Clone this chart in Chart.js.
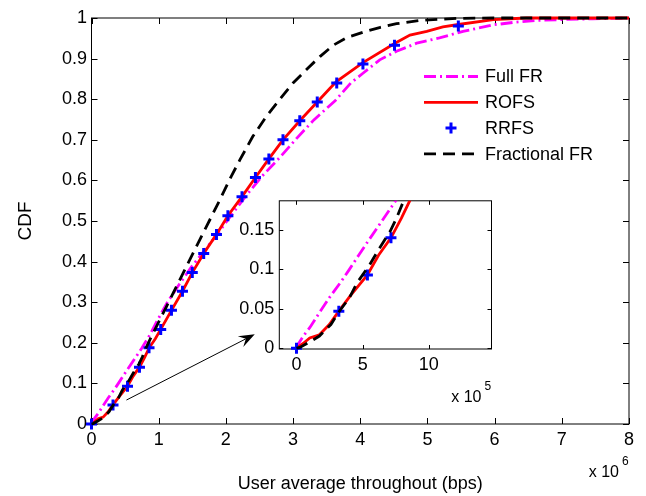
<!DOCTYPE html>
<html>
<head>
<meta charset="utf-8">
<script src="https://cdn.jsdelivr.net/npm/chart.js@4/dist/chart.umd.min.js"></script>
<style>
  body { margin: 0; background: #fff; }
  #wrap { position: relative; width: 646px; height: 496px; }
  #main { position: absolute; left: 0; top: 0; }
  #inset { position: absolute; left: 230px; top: 185px; }
</style>
</head>
<body>
<div id="wrap">
  <canvas id="main" width="646" height="496"></canvas>
  <canvas id="inset" width="270" height="225"></canvas>
</div>
<script>
// throughput in units of 1e6 bps, CDF values
const fullFrX = [0, 0.012, 0.05, 0.10, 0.173, 0.248, 0.335, 0.40, 0.47, 0.55, 0.64, 0.75, 0.87, 0.99, 1.13, 1.31, 1.48, 1.67, 1.87, 2.07, 2.29, 2.52, 2.80, 3.05, 3.31, 3.63, 3.86, 4.04, 4.29, 4.54, 4.84, 5.18, 5.53, 5.98, 6.32, 6.62, 6.97, 7.46, 8.0];
const fullFrY = [0, 0.005, 0.015, 0.026, 0.045, 0.064, 0.084, 0.100, 0.118, 0.138, 0.160, 0.187, 0.220, 0.258, 0.30, 0.345, 0.385, 0.425, 0.467, 0.512, 0.56, 0.607, 0.656, 0.703, 0.749, 0.797, 0.84, 0.864, 0.897, 0.918, 0.938, 0.951, 0.967, 0.983, 0.99, 0.994, 0.996, 0.998, 1.0];

const rofsX = [0, 0.05, 0.10, 0.173, 0.248, 0.32, 0.409, 0.536, 0.62, 0.714, 0.793, 0.856, 0.95, 1.03, 1.19, 1.354, 1.50, 1.67, 1.86, 2.03, 2.24, 2.44, 2.64, 2.85, 3.10, 3.36, 3.55, 3.65, 4.04, 4.51, 4.74, 4.99, 5.23, 5.46, 5.98, 6.47, 8.0];
const rofsY = [0, 0.006, 0.013, 0.017, 0.030, 0.047, 0.067, 0.093, 0.118, 0.140, 0.165, 0.187, 0.21, 0.233, 0.28, 0.327, 0.373, 0.42, 0.467, 0.513, 0.56, 0.607, 0.653, 0.70, 0.747, 0.793, 0.827, 0.844, 0.89, 0.937, 0.958, 0.967, 0.978, 0.984, 0.996, 1.0, 1.0];

const rrfsX = [0, 0.32, 0.536, 0.714, 0.856, 1.03, 1.19, 1.354, 1.50, 1.67, 1.86, 2.03, 2.24, 2.44, 2.64, 2.85, 3.10, 3.36, 3.65, 4.04, 4.51, 5.46];
const rrfsY = [0, 0.047, 0.093, 0.140, 0.188, 0.233, 0.280, 0.327, 0.373, 0.420, 0.467, 0.513, 0.560, 0.607, 0.653, 0.700, 0.747, 0.793, 0.840, 0.887, 0.933, 0.980];

const fracFrX = [0, 0.025, 0.10, 0.173, 0.26, 0.32, 0.40, 0.458, 0.55, 0.62, 0.707, 0.756, 0.81, 0.868, 0.99, 1.116, 1.314, 1.51, 1.71, 1.91, 2.08, 2.21, 2.40, 2.60, 2.80, 3.0, 3.2, 3.40, 3.60, 3.80, 4.04, 4.30, 4.54, 4.89, 5.43, 6.0, 8.0];
const fracFrY = [0, 0.001, 0.008, 0.0154, 0.030, 0.046, 0.064, 0.083, 0.105, 0.125, 0.148, 0.165, 0.187, 0.207, 0.248, 0.289, 0.355, 0.42, 0.486, 0.552, 0.610, 0.651, 0.708, 0.757, 0.799, 0.84, 0.873, 0.905, 0.933, 0.952, 0.965, 0.977, 0.986, 0.994, 0.999, 1.0, 1.0];

// ticks
const mainXTicks = [0, 1, 2, 3, 4, 5, 6, 7, 8];
const mainXLabels = ['0', '1', '2', '3', '4', '5', '6', '7', '8'];
const mainYTicks = [0, 0.1, 0.2, 0.3, 0.4, 0.5, 0.6, 0.7, 0.8, 0.9, 1];
const mainYLabels = ['0', '0.1', '0.2', '0.3', '0.4', '0.5', '0.6', '0.7', '0.8', '0.9', '1'];
const insetXTicks = [0, 0.5, 1.0];
const insetXLabels = ['0', '5', '10'];
const insetYTicks = [0, 0.05, 0.1, 0.15];
const insetYLabels = ['0', '0.05', '0.1', '0.15'];

// axis ranges
const mainXRange = [0, 8], mainYRange = [0, 1];
const insetXRange = [-0.13, 1.474], insetYRange = [-0.001, 0.187];

// arrow pointing at the zoomed region (data units of main axes)
const arrowFrom = [0.52, 0.059];
const arrowTo = [2.43, 0.221];

Chart.defaults.font.family = '"Liberation Sans", Arial, Helvetica, sans-serif';
Chart.defaults.font.size = 18;
Chart.defaults.color = '#000';

function toPoints(xs, ys) {
    return xs.map((x, i) => ({ x: x, y: ys[i] }));
}

function makeDatasets(clip, keep) {
    const markers = toPoints(rrfsX, rrfsY).filter(keep);
    return [
        { label: 'Full FR', data: toPoints(fullFrX, fullFrY), borderColor: '#ff00ff', borderWidth: 2.8,
          borderDash: [12, 4, 2, 4], pointRadius: 0, tension: 0, clip: clip, order: 3 },
        { label: 'ROFS', data: toPoints(rofsX, rofsY), borderColor: '#ff0000', borderWidth: 2.8,
          pointRadius: 0, tension: 0, clip: clip, order: 2 },
        { label: 'RRFS', data: markers, showLine: false, pointStyle: 'cross', pointRadius: 5.5,
          borderColor: '#0000ff', backgroundColor: '#0000ff', pointBorderWidth: 3, clip: clip, order: 1 },
        { label: 'Fractional FR', data: toPoints(fracFrX, fracFrY), borderColor: '#000000', borderWidth: 2.8,
          borderDash: [12, 7], pointRadius: 0, tension: 0, clip: clip, order: 0 }
    ];
}

// matlab style box with inward ticks on every side
function boxPlugin(tickLen, fillWhite) {
    return {
        id: 'box',
        beforeDatasetsDraw(chart) {
            const { ctx, chartArea: a, scales: { x, y } } = chart;
            ctx.save();
            if (fillWhite) {
                ctx.fillStyle = '#fff';
                ctx.fillRect(a.left, a.top, a.right - a.left, a.bottom - a.top);
            }
            ctx.strokeStyle = '#000';
            ctx.lineWidth = 1;
            ctx.strokeRect(a.left, a.top, a.right - a.left, a.bottom - a.top);
            ctx.beginPath();
            x.ticks.forEach(t => {
                const p = Math.round(x.getPixelForValue(t.value)) + 0.5;
                ctx.moveTo(p, a.bottom); ctx.lineTo(p, a.bottom - tickLen);
                ctx.moveTo(p, a.top); ctx.lineTo(p, a.top + tickLen);
            });
            y.ticks.forEach(t => {
                const p = Math.round(y.getPixelForValue(t.value)) + 0.5;
                ctx.moveTo(a.left, p); ctx.lineTo(a.left + tickLen, p);
                ctx.moveTo(a.right, p); ctx.lineTo(a.right - tickLen, p);
            });
            ctx.stroke();
            ctx.restore();
        }
    };
}

// the "x 10^n" multiplier under the x axis
function exponentPlugin(power) {
    return {
        id: 'exponent',
        afterDraw(chart) {
            const { ctx, chartArea: a } = chart;
            ctx.save();
            ctx.fillStyle = '#000';
            ctx.textBaseline = 'middle';
            ctx.font = '16px "Liberation Sans", Arial, sans-serif';
            ctx.textAlign = 'right';
            ctx.fillText('x 10', a.right - 10, a.bottom + 49);
            ctx.font = '12px "Liberation Sans", Arial, sans-serif';
            ctx.textAlign = 'left';
            ctx.fillText(power, a.right - 7, a.bottom + 38);
            ctx.restore();
        }
    };
}

const legendPlugin = {
    id: 'boxlessLegend',
    afterDatasetsDraw(chart) {
        const { ctx } = chart;
        const x0 = 424, x1 = 478, top = 76.5, row = 25.8;
        ctx.save();
        chart.data.datasets.forEach((ds, i) => {
            const yy = top + i * row;
            ctx.strokeStyle = ds.borderColor;
            if (ds.showLine === false) {
                const cx = (x0 + x1) / 2, r = ds.pointRadius;
                ctx.lineWidth = ds.pointBorderWidth;
                ctx.setLineDash([]);
                ctx.beginPath();
                ctx.moveTo(cx - r, yy); ctx.lineTo(cx + r, yy);
                ctx.moveTo(cx, yy - r); ctx.lineTo(cx, yy + r);
                ctx.stroke();
            } else {
                ctx.lineWidth = ds.borderWidth;
                ctx.setLineDash(ds.borderDash || []);
                ctx.beginPath();
                ctx.moveTo(x0, yy); ctx.lineTo(x1, yy);
                ctx.stroke();
            }
            ctx.setLineDash([]);
            ctx.fillStyle = '#000';
            ctx.font = '18px "Liberation Sans", Arial, sans-serif';
            ctx.textBaseline = 'middle';
            ctx.textAlign = 'left';
            ctx.fillText(ds.label, x1 + 7, yy + 1);
        });
        ctx.restore();
    }
};

const arrowPlugin = {
    id: 'arrow',
    afterDatasetsDraw(chart) {
        const { ctx, scales: { x, y } } = chart;
        const xa = x.getPixelForValue(arrowFrom[0]), ya = y.getPixelForValue(arrowFrom[1]);
        const xb = x.getPixelForValue(arrowTo[0]), yb = y.getPixelForValue(arrowTo[1]);
        const ang = Math.atan2(yb - ya, xb - xa);
        const c = Math.cos(ang), s = Math.sin(ang);
        const len = 16, half = 6, notch = 10;
        ctx.save();
        ctx.strokeStyle = '#000';
        ctx.fillStyle = '#000';
        ctx.lineWidth = 1;
        ctx.beginPath();
        ctx.moveTo(xa, ya);
        ctx.lineTo(xb - notch * c, yb - notch * s);
        ctx.stroke();
        ctx.beginPath();
        ctx.moveTo(xb, yb);
        ctx.lineTo(xb - len * c - half * s, yb - len * s + half * c);
        ctx.lineTo(xb - notch * c, yb - notch * s);
        ctx.lineTo(xb - len * c + half * s, yb - len * s - half * c);
        ctx.closePath();
        ctx.fill();
        ctx.restore();
    }
};

function tickSetter(values) {
    return scale => { scale.ticks = values.map(v => ({ value: v })); };
}

new Chart(document.getElementById('main'), {
    type: 'line',
    data: { datasets: makeDatasets(6, () => true) },
    options: {
        responsive: false,
        animation: false,
        layout: { padding: { top: 18, right: 17, left: 0, bottom: 0 } },
        scales: {
            x: {
                type: 'linear', min: mainXRange[0], max: mainXRange[1],
                afterBuildTicks: tickSetter(mainXTicks),
                afterFit: s => { s.height = 72; },
                grid: { display: false, drawTicks: false },
                border: { display: false },
                ticks: { autoSkip: false, maxRotation: 0, padding: 5, callback: (v, i) => mainXLabels[i] },
                title: { display: true, text: 'User average throughout (bps)', font: { size: 18 }, padding: { top: 0, bottom: 1 } }
            },
            y: {
                type: 'linear', min: mainYRange[0], max: mainYRange[1],
                afterBuildTicks: tickSetter(mainYTicks),
                afterFit: s => { s.width = 91.5; },
                grid: { display: false, drawTicks: false },
                border: { display: false },
                ticks: { autoSkip: false, padding: 4.5, callback: (v, i) => mainYLabels[i] },
                title: { display: true, text: 'CDF', font: { size: 19 }, padding: { top: 14, bottom: 0 } }
            }
        },
        plugins: { legend: { display: false }, tooltip: { enabled: false } }
    },
    plugins: [boxPlugin(6, false), legendPlugin, arrowPlugin, exponentPlugin('6')]
});

new Chart(document.getElementById('inset'), {
    type: 'line',
    data: {
        datasets: makeDatasets({ left: 6, bottom: 6, top: 0, right: 0 },
            p => p.x <= insetXRange[1] && p.y <= insetYRange[1])
    },
    options: {
        responsive: false,
        animation: false,
        layout: { padding: { top: 10, right: 5.3, left: 0, bottom: 0 } },
        scales: {
            x: {
                type: 'linear', min: insetXRange[0], max: insetXRange[1],
                afterBuildTicks: tickSetter(insetXTicks),
                afterFit: s => { s.height = 61; },
                grid: { display: false, drawTicks: false },
                border: { display: false },
                ticks: { autoSkip: false, maxRotation: 0, padding: 5, callback: (v, i) => insetXLabels[i] }
            },
            y: {
                type: 'linear', min: insetYRange[0], max: insetYRange[1],
                afterBuildTicks: tickSetter(insetYTicks),
                afterFit: s => { s.width = 49.3; },
                grid: { display: false, drawTicks: false },
                border: { display: false },
                ticks: { autoSkip: false, padding: 5, callback: (v, i) => insetYLabels[i] }
            }
        },
        plugins: { legend: { display: false }, tooltip: { enabled: false } }
    },
    plugins: [boxPlugin(4, true), exponentPlugin('5')]
});
</script>
</body>
</html>
